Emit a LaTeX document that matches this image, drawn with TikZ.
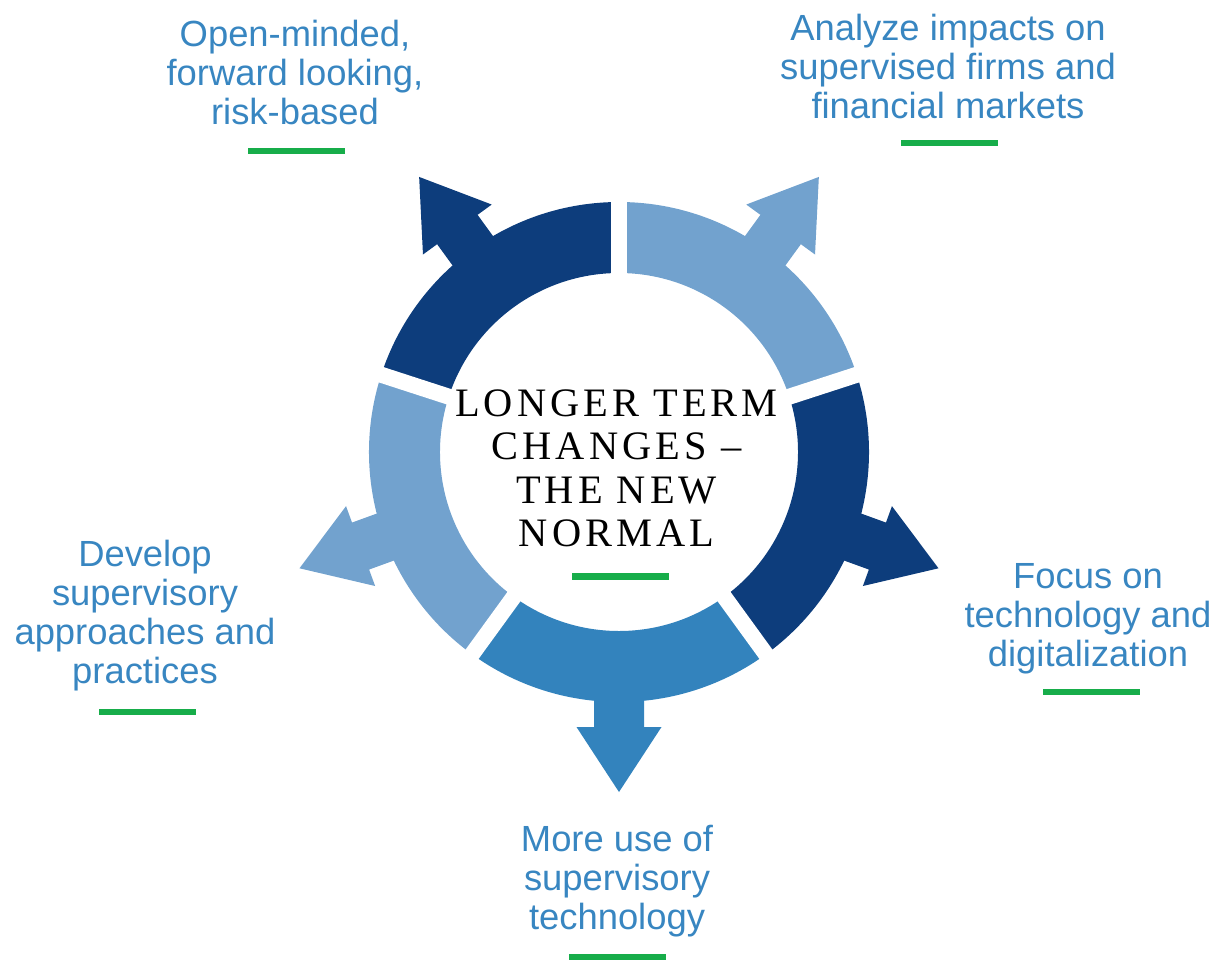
\documentclass[tikz,border=0pt]{standalone}
\usepackage{fontspec}
\setmainfont{Liberation Sans}
\newfontfamily\titlefont[LetterSpace=10]{Liberation Serif}
\definecolor{darkblue}{HTML}{0D3D7C}
\definecolor{lightblue}{HTML}{72A2CE}
\definecolor{midblue}{HTML}{3383BD}
\definecolor{textblue}{HTML}{3886C1}
\definecolor{bargreen}{HTML}{17AD4A}
\tikzset{
	caption/.style={text=textblue, align=center, anchor=north, inner sep=0pt, font=\fontsize{20.7}{22.2}\selectfont},
	heading/.style={align=center, anchor=north, inner sep=0pt, font=\titlefont\fontsize{23}{24.6}\selectfont},
	greenbar/.style={fill=bargreen, minimum width=1.94cm, minimum height=0.13cm, inner sep=0pt},
	gapline/.style={draw=white, line width=0.32cm}
}

\begin{document}
\begin{tikzpicture}
		\useasboundingbox (-12.38,-10.2) rectangle (11.96,9.04);
		
		\foreach \a/\col in {90/darkblue, 162/lightblue, 234/midblue, 306/darkblue, 18/lightblue}
			\fill[\col] (\a:5) arc[start angle=\a, delta angle=72, radius=5] -- (\a+72:3.58) arc[start angle=\a+72, delta angle=-72, radius=3.58] -- cycle;
		
		\foreach \ang/\col in {126/darkblue, 200/lightblue, 270/midblue, 340/darkblue, 54/lightblue}
			\fill[\col, rotate=\ang] (4.4,-0.5) -- (5.5,-0.5) -- (5.5,-0.85) -- (6.8,0) -- (5.5,0.85) -- (5.5,0.5) -- (4.4,0.5) -- cycle;
		
		\foreach \g in {18, 90, 162, 234, 306}
			\draw[gapline] (0,0) -- (\g:5.2);
		
		\node[heading] (core) at (-0.05,1.25) {LONGER TERM\\CHANGES \textendash\\THE NEW\\NORMAL};
		\node[greenbar] (barCore) at (0.02,-2.49) {};
		
		\node[caption] (openMind) at (-6.48,8.64) {Open-minded,\\forward looking,\\risk-based};
		\node[greenbar] (barOpen) at (-6.44,6.02) {};
		
		\node[caption] (analyze) at (6.58,8.76) {Analyze impacts on\\supervised firms and\\financial markets};
		\node[greenbar] (barAnalyze) at (6.6,6.18) {};
		
		\node[caption] (focus) at (9.38,-2.22) {Focus on\\technology and\\digitalization};
		\node[greenbar] (barFocus) at (9.44,-4.8) {};
		
		\node[caption] (suptech) at (-0.04,-7.46) {More use of\\supervisory\\technology};
		\node[greenbar] (barSuptech) at (-0.04,-10.1) {};
		
		\node[caption] (develop) at (-9.48,-1.76) {Develop\\supervisory\\approaches and\\practices};
		\node[greenbar] (barDevelop) at (-9.42,-5.2) {};
	\end{tikzpicture}
\end{document}
